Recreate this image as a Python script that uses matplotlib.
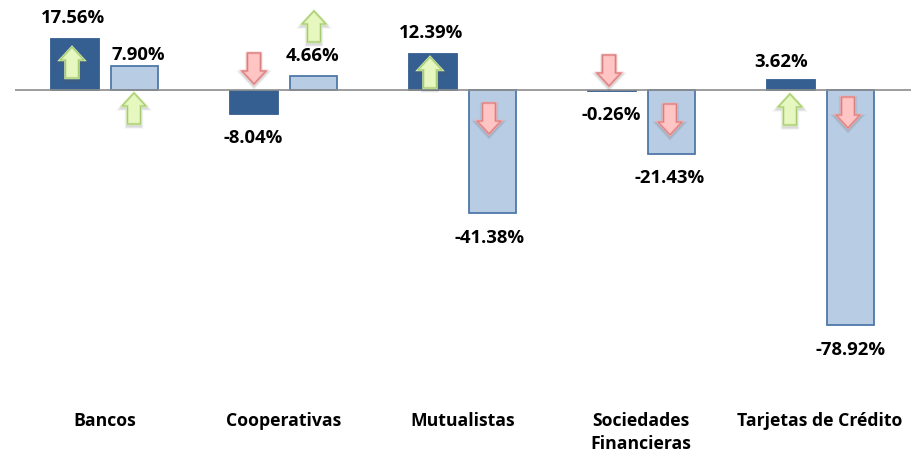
import numpy as np
import matplotlib.pyplot as plt
from matplotlib.patches import Polygon

# Datos
categorias = ['Bancos', 'Cooperativas', 'Mutualistas', 'Sociedades\nFinancieras', 'Tarjetas de Crédito']
serie_1 = [17.56, -8.04, 12.39, -0.26, 3.62]
serie_2 = [7.90, 4.66, -41.38, -21.43, -78.92]

# Posicion de las etiquetas y flechas, en pixeles
etiq_1 = [(73, 18), (253, 138), (431, 33), (611, 115), (781, 62)]
etiq_2 = [(138, 55), (313, 56), (490, 238), (670, 178), (851, 350)]
flecha_1 = [(72, 47), (254, 53), (430, 57), (609, 55), (790, 94)]
flecha_2 = [(134, 93), (314, 11), (489, 103), (670, 104), (848, 97)]
dir_1 = [1, -1, 1, -1, 1]
dir_2 = [1, 1, -1, -1, -1]

OSCURO = '#365F91'
CLARO = '#B8CCE4'
BORDE = '#4F78A8'
VERDE = ('#E6F7C0', '#A6CC72', '#D3EBA8')
ROJO = ('#FFC4C4', '#D97F7F', '#F5ACAC')

plt.rcParams['font.family'] = ['Open Sans', 'DejaVu Sans']

fig = plt.figure(figsize=(9.15, 4.53), dpi=100)
ax = fig.add_axes([15.5 / 915, 0, 895 / 915, 1])
x = np.arange(len(categorias))
ax.bar(x - 0.170, serie_1, 0.27, color=OSCURO, edgecolor=OSCURO, linewidth=0.6, zorder=2)
ax.bar(x + 0.165, serie_2, 0.26, color=CLARO, edgecolor=BORDE, linewidth=1.3, zorder=2)
ax.axhline(0, color='#8E8E8E', linewidth=1.2, zorder=3)
ax.set_xlim(-0.5, 4.5)
ax.set_ylim(-(453 - 90) / 2.98, 90 / 2.98)
ax.axis('off')

# Capa encima en pixeles para flechas y textos
capa = fig.add_axes([0, 0, 1, 1])
capa.set_xlim(0, 915)
capa.set_ylim(453, 0)
capa.axis('off')
capa.patch.set_alpha(0)


def flecha(cx, top, sentido):
    h = 31
    colores = VERDE if sentido > 0 else ROJO
    puntos = np.array([(0, 0), (12, 13), (6.5, 13), (6.5, h), (-6.5, h), (-6.5, 13), (-12, 13)], dtype=float)
    if sentido < 0:
        puntos[:, 1] = h - puntos[:, 1]
    puntos = puntos + (cx, top)
    # sombra difusa
    for extra, alfa in [(4, 0.05), (3, 0.07), (2, 0.1)]:
        capa.add_patch(Polygon(puntos + (0, 2), closed=True, facecolor='none',
                               edgecolor='#555555', linewidth=extra, alpha=alfa, zorder=4))
    capa.add_patch(Polygon(puntos, closed=True, facecolor=colores[0], edgecolor=colores[2],
                           linewidth=1.8, joinstyle='miter', zorder=5))
    capa.add_patch(Polygon(puntos, closed=True, facecolor='none', edgecolor=colores[1],
                           linewidth=0.8, joinstyle='miter', zorder=5))


for (cx, top), s in zip(flecha_1 + flecha_2, dir_1 + dir_2):
    flecha(cx, top, s)

for (px, py), v in zip(etiq_1 + etiq_2, serie_1 + serie_2):
    capa.text(px, py, f'{v:.2f}%', ha='center', va='center', fontsize=13.3,
              fontweight='bold', color='black', zorder=6)

centros = [105, 284, 463, 641, 820]
for cx, nombre in zip(centros, categorias):
    capa.text(cx, 412, nombre, ha='center', va='top', fontsize=12.7, fontweight='bold',
              color='black', linespacing=1.38, zorder=6)

fig.savefig('out.png', dpi=100)
